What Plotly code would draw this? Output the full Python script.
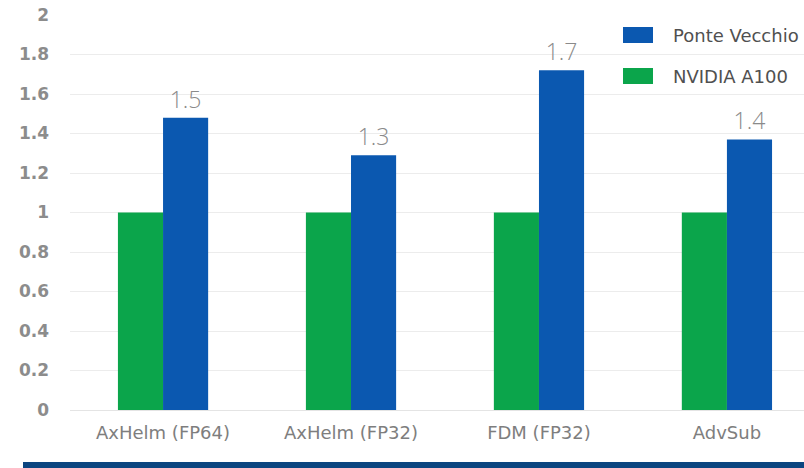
import plotly.graph_objects as go

categories = ["AxHelm (FP64)", "AxHelm (FP32)", "FDM (FP32)", "AdvSub"]
nvidia_a100 = [1.0, 1.0, 1.0, 1.0]
ponte_vecchio = [1.48, 1.29, 1.72, 1.37]
y_ticks = [0, 0.2, 0.4, 0.6, 0.8, 1, 1.2, 1.4, 1.6, 1.8, 2]
series_names = ["Ponte Vecchio", "NVIDIA A100"]

GREEN = "#0ba54b"
BLUE = "#0b58b0"

W, H = 804, 468
L, R, T, B = 70, 0, 15, 58
PW, PH = W - L - R, H - T - B

def px(x):
    return (x - L) / PW

def py(y):
    return (H - B - y) / PH

fig = go.Figure()
fig.add_trace(go.Bar(x=categories, y=nvidia_a100, name=series_names[1],
                     marker=dict(color=GREEN, line=dict(width=0)), showlegend=False))
fig.add_trace(go.Bar(x=categories, y=ponte_vecchio, name=series_names[0],
                     marker=dict(color=BLUE, line=dict(width=0)), showlegend=False,
                     texttemplate="%{y:.1f}", textposition="outside",
                     textfont=dict(family="Open Sans", size=23, color="#8a8a8a", weight=300),
                     cliponaxis=False))

shapes = []
annotations = []
# manual legend
for i, (name, col) in enumerate([(series_names[0], BLUE), (series_names[1], GREEN)]):
    cy = 35 + i * 41
    shapes.append(dict(type="rect", xref="paper", yref="paper",
                       x0=px(623), x1=px(653), y0=py(cy + 8), y1=py(cy - 8),
                       fillcolor=col, line=dict(width=0)))
    annotations.append(dict(xref="paper", yref="paper", x=px(671), y=py(cy),
                            text=name, showarrow=False, xanchor="left", yanchor="middle",
                            font=dict(family="DejaVu Sans", size=18, color="#505050")))
# bottom band
shapes.append(dict(type="rect", xref="paper", yref="paper",
                   x0=px(23), x1=1.0, y0=py(468), y1=py(462),
                   fillcolor="#0b4580", line=dict(width=0)))

fig.update_layout(
    width=W, height=H,
    margin=dict(l=L, r=R, t=T, b=B),
    paper_bgcolor="white", plot_bgcolor="white",
    barmode="group", bargap=0.52, bargroupgap=0,
    shapes=shapes, annotations=annotations,
    xaxis=dict(range=[-0.495, 3.41], showgrid=False, ticks="", showline=False,
               tickfont=dict(family="DejaVu Sans", size=18, color="#7e7e7e"),
               ticklabelstandoff=10),
    yaxis=dict(range=[0, 2], tickvals=y_ticks, ticktext=[f"{v:g}" for v in y_ticks],
               showgrid=True, gridcolor="#ececec", gridwidth=1,
               zeroline=True, zerolinecolor="#e4e4e4", zerolinewidth=1,
               tickfont=dict(family="DejaVu Sans", size=17, color="#8c8c8c", weight=800),
               ticklabelstandoff=20),
)

fig.write_html("out.html")
